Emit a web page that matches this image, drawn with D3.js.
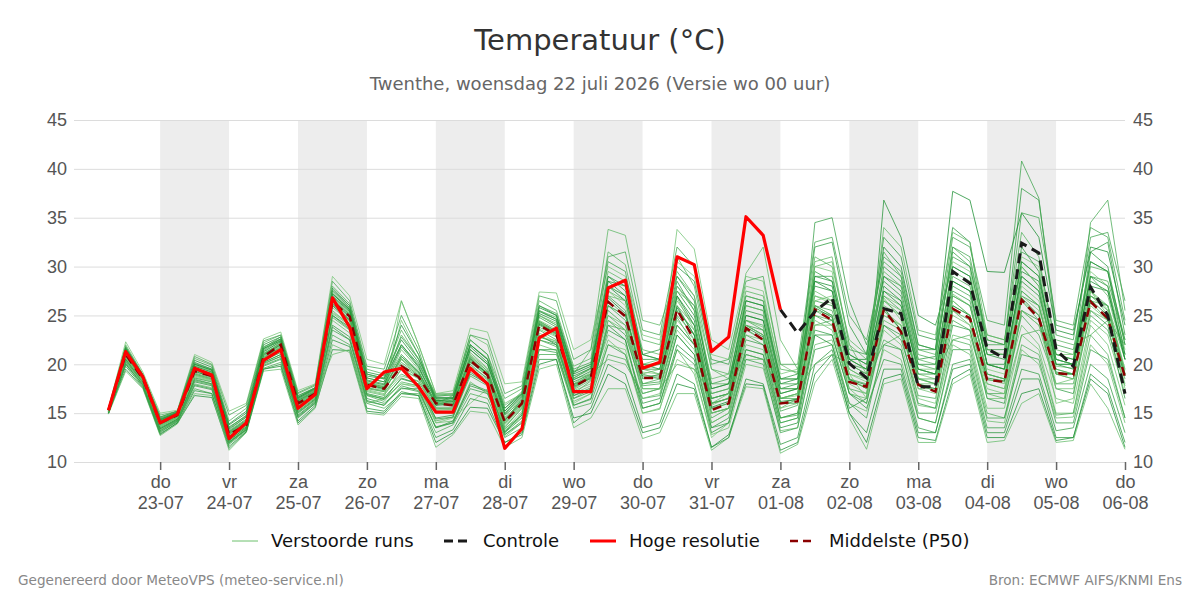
<!DOCTYPE html>
<html>
<meta charset="utf-8">
<title>Temperatuur pluim Twenthe</title>
<style>

body {
  margin: 0;
  background: #fff;
}

svg {
  font-family: "DejaVu Sans", sans-serif;
}

.grid line {
  stroke: #dcdcdc;
  stroke-width: 1;
}

.band {
  fill: #ededed;
}

.axis text {
  fill: #555;
  font-size: 18px;
}

.axis line, .axis path {
  stroke: #666;
}

.run {
  fill: none;
  stroke-width: 1;
  stroke-opacity: 0.75;
}

</style>
<svg width="1200" height="600"></svg>
<script src="https://d3js.org/d3.v7.min.js"></script>
<script>

// eerste tijdstap van de pluim, daarna elke 6 uur
var firstStep = new Date(2026, 6, 22, 6);
var stepHours = 6;

var yTicks = [10, 15, 20, 25, 30, 35, 40, 45];
var weekdays = ["zo", "ma", "di", "wo", "do", "vr", "za"];

// Hoge resolutie (loopt tot 01-08 00 uur)
var hogeResolutie = [15.3, 21.3, 18.7, 14.0, 14.9, 19.6, 18.9, 12.4, 14.0, 20.4,
  21.5, 15.5, 16.9, 26.8, 23.8, 17.5, 19.2, 19.6, 17.7, 15.1,
  15.1, 19.6, 18.0, 11.4, 13.4, 22.7, 23.7, 17.2, 17.2, 27.8,
  28.6, 19.6, 20.2, 31.0, 30.2, 21.3, 22.8, 35.1, 33.2, 25.6];

// Controle, vanaf stap 39 zichtbaar (daarvoor onder de hoge resolutie)
var controleStart = 39;
var controle = [25.6, 23.2, 25.4, 26.8, 20.1, 18.6, 25.7, 25.2, 17.7, 17.7,
  29.5, 28.3, 21.6, 20.6, 32.4, 31.4, 21.5, 19.8, 27.9, 25.0, 17.0];

// Middelste (P50)
var middelste = [15.3, 21.0, 18.5, 14.0, 14.8, 19.3, 18.8, 12.8, 13.8, 20.8,
  22.0, 16.0, 17.0, 26.4, 24.9, 17.9, 17.5, 19.8, 18.7, 16.0,
  15.8, 20.4, 18.9, 14.1, 16.0, 24.0, 23.0, 17.7, 18.7, 26.4,
  24.9, 18.6, 18.6, 25.6, 22.5, 15.3, 16.0, 23.7, 22.5, 16.0,
  16.2, 25.6, 24.5, 18.2, 17.7, 25.6, 23.3, 17.9, 17.2, 25.7,
  24.7, 18.4, 18.2, 26.6, 24.7, 19.1, 18.9, 26.4, 24.7, 18.7];

// Verstoorde runs
var verstoordeRuns = [
  [15.3, 21.5, 18.8, 14.2, 15.0, 19.8, 19.2, 13.0, 14.2, 21.2, 22.4, 16.3, 17.2, 26.8, 25.3, 18.2, 17.8, 20.5, 19.0, 16.2, 16.0, 20.9, 19.3, 14.5, 16.2, 24.5, 23.6, 18.0, 19.2, 27.5, 26.0, 19.2, 19.0, 26.8, 23.5, 15.8, 16.6, 24.5, 23.8, 16.5, 16.8, 27.0, 26.2, 19.0, 18.2, 26.8, 24.5, 18.6, 18.0, 27.2, 26.0, 19.5, 19.0, 28.0, 26.5, 19.8, 19.6, 27.5, 25.6, 19.4],
  [15.1, 20.2, 18.0, 13.2, 14.3, 18.0, 17.6, 12.0, 13.4, 20.0, 20.8, 15.0, 16.4, 24.5, 23.2, 16.8, 16.5, 18.0, 17.6, 14.0, 14.2, 18.2, 17.0, 12.6, 14.0, 22.0, 21.4, 16.2, 17.0, 22.5, 21.0, 15.0, 15.4, 21.5, 19.0, 12.8, 13.5, 20.0, 19.6, 13.2, 13.5, 22.0, 22.5, 16.0, 15.2, 21.5, 20.5, 14.5, 14.0, 22.0, 21.0, 14.2, 14.0, 21.5, 20.0, 14.5, 14.6, 22.0, 20.0, 14.0],
  [15.5, 22.0, 19.0, 14.8, 15.2, 20.6, 19.9, 14.2, 15.5, 22.2, 23.0, 17.0, 17.8, 28.0, 26.2, 19.5, 19.0, 23.5, 20.5, 16.8, 17.0, 22.5, 21.0, 16.5, 17.5, 26.5, 25.5, 19.8, 20.6, 31.5, 30.2, 22.5, 22.0, 31.0, 28.0, 19.5, 19.0, 27.5, 27.0, 19.5, 19.2, 31.0, 30.0, 22.5, 21.0, 31.5, 29.0, 21.5, 21.0, 32.0, 30.5, 23.0, 22.5, 33.5, 31.0, 21.5, 21.0, 30.0, 29.5, 22.0],
  [15.2, 20.8, 18.3, 13.8, 14.6, 19.0, 18.5, 12.5, 13.6, 20.5, 21.6, 15.6, 16.8, 26.0, 24.5, 17.5, 17.2, 19.0, 18.2, 15.5, 15.4, 20.0, 18.5, 13.6, 15.5, 23.5, 22.5, 17.0, 18.3, 25.5, 24.0, 17.8, 18.0, 24.8, 22.0, 14.5, 15.5, 23.0, 22.0, 15.2, 15.8, 25.0, 24.0, 17.5, 17.0, 24.0, 22.5, 16.8, 16.5, 24.5, 23.5, 17.0, 17.0, 25.0, 23.0, 18.0, 18.0, 25.0, 23.5, 17.8],
  [15.4, 21.8, 18.9, 14.5, 15.1, 20.2, 19.5, 13.5, 14.8, 21.8, 22.6, 16.6, 17.5, 27.5, 25.8, 18.8, 18.5, 22.0, 19.8, 15.8, 16.4, 21.5, 20.0, 15.0, 16.8, 25.5, 24.6, 18.6, 19.6, 29.0, 27.5, 20.5, 20.5, 28.5, 25.5, 17.0, 17.5, 25.5, 25.0, 17.5, 18.0, 29.5, 28.5, 21.0, 20.0, 30.0, 28.5, 20.5, 20.8, 31.5, 30.0, 22.5, 22.0, 38.0, 36.8, 24.0, 23.5, 31.5, 32.5, 23.0],
  [15.0, 19.5, 17.6, 12.8, 14.0, 16.8, 16.6, 11.4, 13.1, 19.5, 19.8, 14.0, 15.6, 21.5, 21.4, 15.2, 15.0, 17.0, 16.8, 12.0, 13.0, 15.6, 15.5, 12.0, 12.8, 20.0, 20.5, 14.5, 15.0, 19.0, 18.0, 13.0, 13.5, 18.0, 17.5, 11.5, 12.8, 18.0, 17.8, 11.2, 12.0, 19.0, 21.0, 15.0, 12.0, 18.5, 19.0, 12.5, 12.2, 18.5, 19.5, 12.5, 12.5, 17.0, 17.5, 12.2, 12.5, 18.5, 17.0, 11.5],
  [15.3, 21.2, 18.6, 14.0, 14.9, 19.5, 19.0, 12.8, 14.0, 21.0, 22.2, 16.0, 17.1, 26.5, 25.0, 18.0, 17.6, 24.5, 21.0, 16.5, 15.7, 21.0, 19.5, 14.0, 16.0, 24.2, 23.2, 17.5, 18.6, 26.0, 25.0, 19.5, 20.0, 33.8, 31.8, 22.5, 21.5, 29.0, 28.5, 20.0, 19.0, 26.0, 25.0, 19.0, 18.5, 25.5, 24.0, 19.0, 18.5, 26.5, 25.0, 18.5, 18.0, 26.5, 25.0, 18.0, 18.5, 26.0, 24.5, 18.8],
  [15.2, 21.0, 18.4, 13.6, 14.5, 18.5, 18.0, 12.2, 13.5, 20.6, 21.8, 15.4, 16.6, 25.5, 24.0, 17.2, 16.8, 19.5, 18.6, 15.2, 15.2, 19.8, 18.6, 13.5, 15.5, 25.0, 24.0, 19.0, 21.5, 33.8, 33.2, 24.5, 24.0, 29.0, 27.0, 19.5, 18.5, 24.0, 23.0, 15.5, 16.5, 25.5, 25.0, 17.0, 16.5, 24.5, 23.5, 17.5, 17.5, 25.5, 24.0, 18.0, 17.5, 25.5, 24.0, 19.5, 19.0, 26.5, 26.0, 20.5],
  [15.0, 20.0, 17.8, 13.0, 14.2, 17.5, 17.0, 11.8, 13.2, 19.6, 20.2, 14.5, 16.0, 23.0, 22.0, 16.0, 15.5, 17.0, 17.0, 13.0, 13.8, 17.0, 16.5, 12.5, 13.5, 21.0, 21.0, 15.5, 16.0, 21.0, 20.5, 16.5, 16.8, 23.0, 21.0, 14.0, 15.0, 21.5, 21.0, 14.5, 14.8, 24.0, 24.5, 18.5, 17.5, 27.5, 26.5, 20.0, 19.5, 29.0, 28.0, 21.0, 21.0, 30.5, 29.0, 21.0, 20.5, 29.0, 28.5, 22.5],
  [15.4, 21.4, 18.7, 14.3, 15.0, 19.6, 19.0, 13.2, 14.4, 21.4, 22.5, 16.4, 17.4, 27.0, 25.5, 18.4, 18.0, 21.0, 19.3, 16.0, 15.8, 20.5, 19.0, 14.2, 16.5, 24.8, 23.8, 18.2, 19.0, 27.0, 25.5, 18.5, 19.0, 26.0, 23.0, 15.5, 16.0, 24.0, 23.0, 16.0, 16.5, 34.5, 35.0, 26.5, 22.0, 28.5, 27.0, 19.5, 19.0, 27.5, 26.5, 19.0, 18.5, 27.0, 26.0, 19.0, 19.0, 27.0, 26.0, 19.0],
  [15.1, 20.5, 18.2, 13.5, 14.4, 18.6, 18.2, 12.4, 13.6, 20.4, 21.2, 15.2, 16.5, 25.0, 23.8, 17.0, 16.6, 18.5, 18.0, 14.5, 14.8, 19.0, 18.0, 13.0, 15.0, 23.0, 22.0, 16.8, 17.6, 24.0, 22.5, 15.5, 16.0, 22.0, 20.5, 13.0, 14.0, 21.0, 20.5, 13.5, 14.0, 23.0, 22.0, 15.5, 16.5, 36.8, 33.0, 25.0, 24.0, 30.0, 29.0, 20.0, 19.5, 28.5, 27.0, 20.5, 20.0, 28.0, 27.5, 21.0],
  [15.5, 22.3, 19.2, 15.0, 15.3, 21.0, 20.2, 15.2, 16.0, 22.6, 23.3, 17.3, 18.0, 29.0, 27.0, 20.5, 20.0, 26.5, 22.0, 17.0, 17.3, 23.7, 23.3, 18.0, 18.2, 27.4, 27.3, 21.5, 22.5, 30.0, 29.0, 23.0, 22.5, 30.5, 29.0, 21.0, 20.5, 28.0, 27.5, 19.0, 19.5, 30.0, 29.5, 20.5, 19.5, 27.0, 26.0, 19.5, 19.5, 30.5, 29.5, 21.5, 21.0, 31.0, 30.0, 21.0, 21.0, 29.5, 28.0, 21.5],
  [14.9, 19.3, 17.5, 12.7, 13.9, 17.0, 16.8, 11.2, 13.0, 19.3, 19.5, 13.8, 15.5, 22.0, 21.2, 15.0, 14.8, 16.7, 16.5, 11.5, 12.8, 15.2, 15.0, 11.5, 12.5, 19.5, 20.0, 13.5, 14.5, 17.5, 17.5, 12.4, 13.0, 17.0, 17.0, 11.2, 12.5, 17.7, 17.5, 10.9, 11.8, 18.1, 20.5, 14.5, 11.3, 18.0, 18.5, 12.0, 12.0, 18.0, 19.0, 12.0, 12.2, 16.0, 17.0, 12.0, 12.2, 18.0, 15.5, 11.3],
  [15.3, 20.9, 18.5, 14.0, 14.8, 19.2, 18.8, 12.8, 13.9, 20.8, 21.9, 16.0, 17.0, 26.3, 24.8, 17.8, 17.4, 20.0, 18.8, 16.0, 15.8, 20.4, 18.9, 14.2, 16.0, 24.0, 23.0, 17.8, 18.8, 26.5, 25.0, 18.6, 18.6, 25.5, 22.5, 15.4, 16.0, 23.6, 22.5, 16.0, 16.2, 25.5, 24.5, 18.2, 17.7, 25.5, 23.5, 18.0, 17.2, 25.5, 24.5, 18.4, 18.2, 26.5, 24.5, 19.0, 19.0, 26.4, 24.5, 18.5],
  [15.2, 21.1, 18.6, 14.1, 14.8, 19.4, 18.9, 13.0, 14.1, 21.0, 22.0, 16.2, 17.2, 26.0, 24.5, 18.0, 17.5, 19.8, 18.7, 16.3, 16.2, 20.2, 19.2, 14.8, 16.3, 24.3, 23.3, 18.0, 18.5, 26.0, 24.5, 18.0, 18.2, 25.0, 23.0, 16.5, 17.0, 24.0, 23.5, 17.0, 17.5, 26.5, 26.0, 20.0, 19.5, 29.0, 28.0, 21.5, 21.5, 33.0, 32.0, 24.5, 24.0, 40.8, 37.0, 23.0, 22.5, 33.0, 33.5, 26.5],
  [15.0, 20.3, 18.1, 13.4, 14.3, 18.2, 17.8, 12.1, 13.3, 20.1, 20.8, 14.8, 16.2, 24.0, 22.8, 16.5, 16.0, 17.5, 17.5, 13.5, 14.2, 17.8, 17.2, 13.0, 14.5, 22.5, 22.0, 16.5, 17.2, 28.5, 28.0, 21.0, 21.5, 30.0, 28.5, 20.5, 20.0, 27.0, 26.5, 18.5, 19.0, 32.0, 32.5, 24.0, 21.0, 33.0, 31.0, 23.0, 22.5, 34.0, 32.5, 21.5, 21.5, 32.0, 29.5, 20.0, 19.5, 31.5, 30.0, 22.0],
  [15.4, 21.6, 18.9, 14.4, 15.0, 20.0, 19.4, 13.8, 15.0, 21.6, 22.4, 16.6, 17.6, 27.2, 25.6, 19.0, 18.6, 22.5, 20.2, 16.6, 16.6, 22.0, 20.5, 15.5, 17.0, 25.8, 25.0, 19.0, 19.8, 28.0, 27.0, 20.0, 19.5, 27.0, 24.5, 16.5, 17.0, 26.5, 26.0, 18.0, 18.5, 28.5, 28.0, 20.5, 20.5, 32.0, 30.0, 22.0, 21.5, 37.7, 36.8, 29.5, 29.4, 35.5, 33.0, 23.5, 23.0, 32.0, 31.5, 24.0],
  [15.1, 20.6, 18.2, 13.6, 14.5, 18.8, 18.3, 12.6, 13.7, 20.5, 21.4, 15.5, 16.7, 25.2, 24.0, 17.3, 16.9, 18.8, 18.3, 15.0, 15.0, 19.5, 18.2, 13.3, 15.2, 23.2, 22.3, 17.0, 17.8, 23.0, 22.0, 16.5, 17.0, 23.5, 21.5, 14.0, 15.0, 22.0, 21.5, 14.5, 15.0, 24.5, 23.5, 17.5, 16.0, 23.5, 22.0, 15.8, 15.5, 23.0, 22.5, 15.5, 15.5, 23.0, 21.5, 15.0, 15.0, 24.0, 22.0, 15.8],
  [15.3, 21.3, 18.7, 14.3, 15.0, 19.9, 19.3, 13.3, 14.6, 21.5, 22.6, 16.5, 17.4, 27.3, 25.7, 18.6, 18.2, 23.0, 20.6, 16.9, 16.8, 22.0, 20.6, 15.8, 17.0, 25.5, 24.8, 19.3, 20.0, 29.5, 28.5, 21.5, 21.0, 29.5, 27.0, 18.0, 18.0, 27.0, 26.5, 18.5, 18.5, 30.0, 30.5, 22.0, 20.5, 29.5, 28.0, 20.5, 20.0, 29.5, 28.5, 21.0, 21.0, 30.0, 28.0, 20.5, 20.0, 29.0, 27.0, 20.5],
  [15.2, 20.9, 18.4, 13.9, 14.7, 19.1, 18.6, 12.7, 13.8, 20.7, 21.7, 15.8, 16.9, 26.2, 24.6, 17.6, 17.3, 20.2, 18.9, 15.6, 15.6, 20.2, 18.8, 14.0, 15.8, 24.2, 23.2, 17.6, 18.6, 25.0, 23.5, 17.0, 17.5, 24.0, 22.0, 15.0, 15.5, 23.5, 22.5, 16.0, 16.0, 26.0, 25.5, 19.5, 18.5, 27.0, 25.5, 18.5, 18.5, 28.0, 27.0, 20.0, 19.5, 29.0, 27.5, 20.0, 20.0, 34.5, 36.8, 25.5],
  [15.0, 20.1, 17.9, 13.1, 14.1, 17.8, 17.4, 11.9, 13.3, 19.8, 20.5, 14.6, 16.0, 23.8, 22.5, 16.3, 15.8, 17.8, 17.3, 13.6, 14.0, 18.0, 17.3, 12.8, 14.2, 21.5, 21.5, 15.8, 16.5, 24.5, 23.0, 17.5, 17.5, 24.0, 22.0, 15.0, 15.5, 22.5, 22.0, 14.5, 15.0, 23.0, 23.0, 17.0, 15.5, 20.5, 20.0, 13.5, 13.0, 20.0, 20.5, 13.5, 13.5, 19.5, 19.0, 13.2, 13.5, 20.0, 18.5, 13.0],
  [15.4, 21.7, 18.8, 14.6, 15.2, 20.4, 19.7, 13.9, 15.2, 22.0, 22.8, 16.8, 17.6, 27.8, 26.0, 19.2, 18.8, 24.0, 21.0, 16.2, 16.5, 22.0, 20.5, 15.2, 17.0, 26.0, 25.0, 19.2, 20.0, 28.5, 27.0, 20.0, 20.0, 27.5, 25.0, 17.5, 18.0, 25.0, 24.5, 17.5, 17.5, 28.0, 27.5, 20.0, 19.0, 28.0, 26.5, 19.0, 19.0, 28.5, 27.5, 20.0, 20.0, 29.0, 27.5, 20.0, 20.0, 29.0, 28.0, 20.5],
  [15.2, 20.7, 18.3, 13.7, 14.5, 18.7, 18.2, 12.3, 13.5, 20.3, 21.3, 15.3, 16.6, 25.3, 24.2, 17.0, 16.4, 18.0, 17.8, 14.0, 14.5, 16.0, 17.5, 13.2, 14.6, 22.8, 22.4, 16.0, 17.0, 22.0, 21.5, 15.0, 15.5, 20.5, 19.5, 12.5, 14.0, 20.5, 20.5, 14.0, 14.5, 26.5, 27.0, 19.0, 16.5, 25.0, 24.0, 16.5, 16.0, 26.0, 25.0, 16.5, 16.5, 27.0, 25.5, 16.0, 16.5, 27.5, 25.0, 17.5],
  [15.3, 21.2, 18.6, 14.1, 14.9, 19.5, 19.0, 13.0, 14.1, 21.1, 22.2, 16.1, 17.2, 26.7, 25.2, 18.1, 17.7, 21.5, 19.5, 16.4, 16.3, 21.2, 19.6, 14.6, 16.6, 25.0, 24.2, 18.6, 19.5, 27.0, 26.5, 20.0, 20.5, 27.5, 26.0, 18.5, 19.0, 29.3, 32.0, 22.5, 19.5, 27.0, 26.5, 20.5, 19.5, 26.0, 25.0, 18.0, 18.0, 27.0, 26.0, 19.0, 18.5, 27.5, 26.0, 19.0, 18.5, 27.5, 26.0, 19.5],
  [15.1, 20.4, 18.1, 13.3, 14.3, 18.3, 17.9, 12.0, 13.4, 20.2, 21.0, 15.0, 16.3, 24.8, 23.5, 16.8, 16.2, 18.2, 17.8, 14.2, 14.6, 18.8, 17.8, 13.4, 14.8, 22.5, 21.8, 16.5, 17.5, 24.0, 23.5, 18.0, 18.5, 26.0, 24.0, 16.5, 17.0, 24.5, 24.0, 16.5, 17.0, 25.0, 24.5, 18.5, 17.5, 22.5, 21.5, 15.0, 15.0, 22.5, 22.0, 15.0, 14.5, 22.0, 21.0, 14.8, 15.0, 23.0, 21.0, 14.5],
  [15.4, 21.5, 18.8, 14.4, 15.1, 20.1, 19.5, 13.6, 14.7, 21.7, 22.8, 16.7, 17.6, 27.6, 26.0, 19.0, 18.5, 22.8, 20.5, 16.7, 16.9, 22.5, 21.0, 15.5, 17.2, 26.0, 25.2, 19.5, 20.2, 30.5, 29.5, 21.0, 20.5, 28.0, 26.0, 18.0, 18.5, 26.0, 25.5, 18.0, 18.0, 29.0, 29.0, 21.5, 21.0, 31.0, 29.5, 22.0, 21.5, 31.0, 30.0, 22.0, 22.0, 31.5, 30.5, 22.0, 21.5, 30.5, 29.5, 22.5],
  [15.0, 19.8, 17.7, 12.9, 14.0, 17.3, 17.0, 11.6, 13.1, 19.5, 20.0, 14.2, 15.8, 22.5, 21.8, 15.5, 15.2, 17.2, 16.8, 12.5, 13.3, 16.5, 16.0, 12.0, 13.0, 20.5, 20.5, 14.0, 15.5, 20.0, 19.0, 13.5, 14.0, 19.0, 18.0, 11.5, 12.5, 18.5, 18.0, 11.8, 12.5, 20.0, 21.5, 15.0, 13.0, 19.5, 19.5, 13.0, 13.0, 19.5, 20.0, 13.0, 13.0, 18.5, 18.5, 12.5, 12.5, 19.0, 17.5, 12.0],
  [15.3, 21.0, 18.5, 13.9, 14.7, 19.3, 18.7, 12.9, 14.0, 20.9, 22.0, 15.9, 16.9, 26.4, 24.9, 17.9, 17.5, 20.8, 19.2, 15.8, 15.9, 20.6, 19.0, 14.3, 16.1, 24.1, 23.1, 17.7, 18.7, 26.8, 25.2, 18.8, 18.8, 25.8, 23.0, 15.6, 16.2, 23.8, 22.8, 16.2, 16.4, 25.8, 24.8, 18.4, 17.9, 25.8, 23.5, 18.0, 17.5, 26.0, 25.0, 18.6, 18.3, 26.8, 25.0, 19.2, 19.0, 26.6, 25.0, 18.8],
  [15.2, 20.6, 18.3, 13.7, 14.6, 18.9, 18.4, 12.6, 13.8, 20.6, 21.6, 15.7, 16.8, 21.0, 21.5, 16.0, 16.5, 26.5, 22.0, 17.0, 17.0, 23.0, 22.0, 16.0, 17.0, 25.0, 24.0, 18.5, 19.0, 25.0, 24.0, 19.0, 19.5, 26.5, 24.0, 16.0, 17.0, 24.0, 23.0, 16.5, 17.0, 27.5, 26.5, 19.5, 18.5, 26.5, 25.5, 18.5, 18.0, 26.5, 25.0, 18.0, 17.5, 24.0, 22.0, 16.5, 16.0, 24.5, 23.0, 17.0],
  [15.3, 21.1, 18.5, 14.0, 14.9, 19.4, 18.8, 12.9, 14.0, 21.0, 22.1, 16.1, 17.1, 26.6, 25.1, 18.0, 17.6, 20.6, 19.1, 16.1, 16.1, 20.7, 19.1, 14.4, 16.2, 24.4, 23.4, 17.9, 19.0, 20.5, 20.0, 17.0, 17.5, 20.0, 19.5, 17.0, 17.5, 21.0, 20.5, 17.5, 17.5, 20.0, 21.0, 20.0, 19.0, 22.0, 23.0, 19.5, 19.0, 22.5, 23.0, 17.0, 16.5, 23.0, 23.5, 22.5, 22.0, 23.0, 24.5, 22.0],
  [15.3, 21.8, 18.9, 14.6, 15.2, 20.8, 20.0, 14.8, 15.8, 22.4, 23.0, 17.1, 17.9, 28.5, 26.5, 19.8, 19.5, 25.0, 21.5, 16.0, 16.8, 23.0, 22.5, 17.0, 17.8, 27.0, 26.5, 20.5, 21.5, 31.0, 31.5, 23.5, 23.0, 32.0, 30.0, 20.0, 20.5, 28.5, 29.0, 20.0, 20.0, 32.5, 33.0, 25.0, 22.5, 30.5, 29.0, 21.0, 20.5, 32.0, 31.0, 22.5, 22.0, 35.5, 35.0, 24.5, 24.0, 34.0, 33.0, 24.5],
  [15.2, 20.5, 18.2, 13.4, 14.4, 18.4, 18.0, 12.2, 13.5, 20.2, 21.0, 15.1, 16.4, 25.0, 23.6, 16.9, 16.4, 18.6, 18.0, 14.4, 14.6, 19.2, 18.0, 13.1, 14.8, 22.8, 22.2, 16.8, 17.4, 23.5, 22.5, 16.0, 16.5, 23.0, 21.0, 13.5, 14.5, 21.5, 21.0, 14.0, 14.5, 23.5, 23.0, 17.0, 16.0, 24.0, 23.0, 16.0, 15.5, 24.0, 23.5, 16.5, 16.0, 25.5, 24.5, 17.5, 17.0, 25.5, 24.0, 16.5],
  [15.4, 21.4, 18.8, 14.2, 15.0, 19.8, 19.2, 13.1, 14.3, 21.3, 22.3, 16.3, 17.3, 26.9, 25.4, 18.3, 17.9, 21.8, 19.7, 16.3, 16.2, 21.5, 20.0, 14.9, 16.7, 25.2, 24.4, 18.4, 19.3, 28.0, 26.5, 19.5, 19.5, 27.0, 24.0, 16.0, 16.5, 25.0, 24.5, 17.0, 17.5, 28.5, 27.5, 20.5, 19.5, 27.5, 26.0, 19.5, 19.0, 28.5, 27.5, 20.0, 19.5, 29.5, 28.5, 21.0, 20.5, 28.5, 27.5, 20.5],
  [15.1, 20.7, 18.2, 13.7, 14.5, 18.9, 18.4, 12.5, 13.7, 20.5, 21.5, 15.5, 16.7, 25.8, 24.4, 17.4, 17.0, 19.5, 18.5, 15.3, 15.4, 19.6, 18.4, 13.8, 15.6, 23.6, 22.8, 17.3, 18.0, 24.5, 23.5, 17.5, 17.5, 24.5, 22.5, 15.0, 15.5, 23.0, 22.5, 15.5, 16.0, 24.0, 24.0, 18.0, 17.0, 25.0, 24.0, 17.5, 17.0, 25.0, 24.0, 17.5, 17.0, 25.5, 24.0, 17.5, 17.5, 25.5, 24.5, 18.0],
  [15.2, 20.9, 18.4, 13.8, 14.6, 19.0, 18.5, 12.6, 13.8, 20.7, 21.8, 15.8, 16.9, 26.1, 24.6, 17.6, 17.2, 20.5, 18.8, 15.4, 15.5, 20.3, 18.8, 13.9, 15.7, 23.8, 22.9, 17.4, 18.4, 27.5, 26.5, 19.5, 19.0, 28.0, 25.5, 16.0, 16.5, 26.0, 25.5, 16.5, 17.0, 30.5, 31.0, 22.0, 19.0, 34.0, 32.0, 23.5, 23.0, 33.5, 32.5, 23.0, 22.5, 30.0, 28.0, 19.0, 18.5, 27.0, 26.0, 19.0],
  [15.3, 21.2, 18.6, 14.1, 14.9, 19.6, 19.1, 13.1, 14.2, 21.1, 22.1, 16.2, 17.2, 26.6, 25.1, 18.1, 17.7, 20.8, 19.2, 16.0, 16.0, 20.8, 19.3, 14.3, 16.2, 24.4, 23.4, 17.9, 18.9, 26.0, 25.0, 19.0, 18.5, 25.5, 23.5, 16.0, 16.5, 24.5, 23.5, 16.5, 16.5, 26.0, 25.0, 18.5, 18.0, 26.5, 25.0, 18.5, 18.0, 27.0, 26.0, 19.0, 18.5, 27.5, 26.0, 19.5, 19.0, 27.0, 25.5, 19.0],
  [15.0, 20.0, 17.9, 13.2, 14.2, 17.9, 17.5, 12.0, 13.3, 19.9, 20.6, 14.7, 16.1, 23.5, 22.5, 16.2, 15.8, 17.6, 17.2, 13.5, 14.0, 17.5, 17.0, 12.8, 14.0, 21.5, 21.2, 15.8, 16.4, 22.0, 21.0, 15.5, 16.0, 21.5, 20.0, 13.5, 14.0, 20.5, 20.0, 13.0, 13.5, 21.5, 22.0, 16.0, 14.5, 22.0, 21.5, 14.5, 14.0, 21.5, 21.5, 14.5, 14.5, 21.0, 20.5, 14.0, 14.0, 21.5, 20.5, 14.5],
  [15.4, 21.6, 18.8, 14.3, 15.1, 20.0, 19.4, 13.4, 14.6, 21.6, 22.6, 16.5, 17.5, 27.2, 25.6, 18.6, 18.2, 22.0, 20.0, 16.5, 16.5, 21.8, 20.2, 15.2, 16.9, 25.4, 24.6, 18.8, 19.6, 29.0, 28.0, 21.0, 20.5, 29.0, 26.5, 17.5, 18.0, 26.5, 26.0, 18.5, 18.5, 29.0, 28.5, 21.0, 20.0, 29.0, 27.5, 20.0, 20.0, 30.0, 29.0, 21.0, 20.5, 30.5, 29.0, 20.5, 20.0, 30.5, 29.5, 21.0]
];

var svg = d3.select("svg");

var margin = {top: 120, right: 75, bottom: 138, left: 74},
    width = 1200 - margin.left - margin.right,
    height = 600 - margin.top - margin.bottom;

var timeAt = function(i) { return d3.timeHour.offset(firstStep, i * stepHours); };

var x = d3.scaleTime()
    .domain([new Date(2026, 6, 21, 18), new Date(2026, 7, 6, 0)])
    .range([0, width]);

var y = d3.scaleLinear().domain([10, 45]).range([height, 0]);

var g = svg.append("g")
    .attr("transform", "translate(" + margin.left + "," + margin.top + ")");

// grijze banden: om de dag vanaf do 23-07
var days = d3.timeDay.range(new Date(2026, 6, 23), new Date(2026, 7, 6));
g.selectAll(".band")
    .data(days.filter(function(d, i) { return i % 2 === 0; }))
  .enter().append("rect")
    .attr("class", "band")
    .attr("x", function(d) { return x(d); })
    .attr("y", 0)
    .attr("width", function(d) { return x(d3.timeDay.offset(d, 1)) - x(d); })
    .attr("height", height);

g.append("g")
    .attr("class", "grid")
    .selectAll("line")
    .data(yTicks)
  .enter().append("line")
    .attr("x1", 0)
    .attr("x2", width)
    .attr("y1", function(d) { return y(d) + 0.5; })
    .attr("y2", function(d) { return y(d) + 0.5; });

// y-as links en rechts
var yAxisLeft = g.append("g")
    .attr("class", "axis")
    .call(d3.axisLeft(y).tickValues(yTicks).tickSize(0).tickPadding(7));
yAxisLeft.select(".domain").remove();

var yAxisRight = g.append("g")
    .attr("class", "axis")
    .attr("transform", "translate(" + width + ",0)")
    .call(d3.axisRight(y).tickValues(yTicks).tickSize(0).tickPadding(8));
yAxisRight.select(".domain").remove();

// x-as met dag + datum
var dayTicks = d3.timeDay.range(new Date(2026, 6, 23), new Date(2026, 7, 6, 1));
var xAxis = g.append("g")
    .attr("class", "axis")
    .attr("transform", "translate(0," + height + ")")
    .call(d3.axisBottom(x).tickValues(dayTicks).tickSize(8).tickFormat(""));
xAxis.select(".domain").remove();
xAxis.selectAll(".tick line").attr("stroke", "#666").attr("stroke-width", 1.5);

var tickLabel = xAxis.selectAll(".tick").append("text")
    .attr("fill", "#555")
    .attr("text-anchor", "middle");
tickLabel.append("tspan")
    .attr("x", 0)
    .attr("y", 26)
    .text(function(d) { return weekdays[d.getDay()]; });
tickLabel.append("tspan")
    .attr("x", 0)
    .attr("y", 47)
    .text(d3.timeFormat("%d-%m"));

var line = d3.line()
    .x(function(d, i) { return x(timeAt(i)); })
    .y(function(d) { return y(d); });

var green = d3.interpolateRgb("#78c878", "#138a2c");

g.selectAll(".run")
    .data(verstoordeRuns)
  .enter().append("path")
    .attr("class", "run")
    .attr("stroke", function(d, i) { return green((i * 7 % verstoordeRuns.length) / (verstoordeRuns.length - 1)); })
    .attr("d", line);

g.append("path")
    .datum(middelste)
    .attr("fill", "none")
    .attr("stroke", "#8b0000")
    .attr("stroke-width", 2.5)
    .attr("stroke-dasharray", "9,6")
    .attr("d", line);

var controleLine = d3.line()
    .x(function(d, i) { return x(timeAt(i + controleStart)); })
    .y(function(d) { return y(d); });

g.append("path")
    .datum(controle)
    .attr("fill", "none")
    .attr("stroke", "#1a1a1a")
    .attr("stroke-width", 3)
    .attr("stroke-dasharray", "10,6")
    .attr("d", controleLine);

g.append("path")
    .datum(hogeResolutie)
    .attr("fill", "none")
    .attr("stroke", "#ff0000")
    .attr("stroke-width", 3.2)
    .attr("stroke-linejoin", "round")
    .attr("d", line);

// titels
svg.append("text")
    .attr("x", 600)
    .attr("y", 50)
    .attr("text-anchor", "middle")
    .attr("fill", "#333")
    .style("font-size", "29px")
    .text("Temperatuur (°C)");

svg.append("text")
    .attr("x", 600)
    .attr("y", 90)
    .attr("text-anchor", "middle")
    .attr("fill", "#666")
    .style("font-size", "18px")
    .text("Twenthe, woensdag 22 juli 2026 (Versie wo 00 uur)");

// legenda
var legendItems = [
  {label: "Verstoorde runs", x: 232, color: "#6cc06c", w: 1, dash: null},
  {label: "Controle", x: 444, color: "#1a1a1a", w: 3, dash: "9,5"},
  {label: "Hoge resolutie", x: 590, color: "#ff0000", w: 3, dash: null},
  {label: "Middelste (P50)", x: 790, color: "#8b0000", w: 2.5, dash: "8,5"}
];

var legend = svg.selectAll(".legend")
    .data(legendItems)
  .enter().append("g")
    .attr("class", "legend")
    .attr("transform", function(d) { return "translate(" + d.x + ",541)"; });

legend.append("line")
    .attr("x1", 0)
    .attr("x2", 26)
    .attr("stroke", function(d) { return d.color; })
    .attr("stroke-width", function(d) { return d.w; })
    .attr("stroke-dasharray", function(d) { return d.dash; });

legend.append("text")
    .attr("x", 39)
    .attr("y", 6)
    .attr("fill", "#111")
    .style("font-size", "18px")
    .text(function(d) { return d.label; });

// voettekst
svg.append("text")
    .attr("x", 18)
    .attr("y", 585)
    .attr("fill", "#888")
    .style("font-size", "13.6px")
    .text("Gegenereerd door MeteoVPS (meteo-service.nl)");

svg.append("text")
    .attr("x", 1182)
    .attr("y", 585)
    .attr("text-anchor", "end")
    .attr("fill", "#888")
    .style("font-size", "13.6px")
    .text("Bron: ECMWF AIFS/KNMI Ens");

</script>
</html>
